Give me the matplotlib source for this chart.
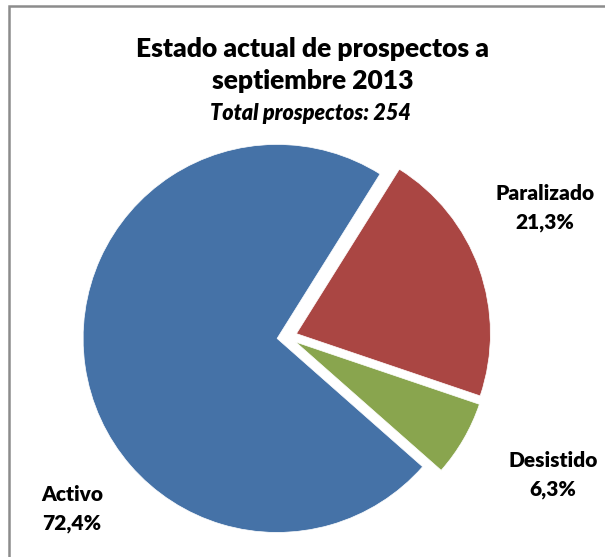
import matplotlib.pyplot as plt
from matplotlib.patches import Rectangle

# datos del grafico
categorias = ['Activo', 'Paralizado', 'Desistido']
porcentajes = [72.4, 21.3, 6.3]
colores = ['#4572A7', '#AA4643', '#89A54E']
titulo = 'Estado actual de prospectos a\nseptiembre 2013'
subtitulo = 'Total prospectos: 254'

W, H = 605, 557
plt.rcParams['font.family'] = ['Lato', 'DejaVu Sans']

fig = plt.figure(figsize=(W / 100, H / 100), dpi=100)
ax = fig.add_axes([0, 0, 1, 1])

# marco gris
ax.add_patch(Rectangle((8.5, -20), W + 40, H - 5.5 + 20, fill=False,
                       edgecolor='#8c8c8c', linewidth=1.8))

# pastel (coordenadas en pixeles, explode en pixeles)
cx, cy = 287, H - 337
ax.pie(porcentajes, colors=colores, startangle=-41.4, counterclock=False,
       center=(cx, cy), radius=194, explode=[10, 10, 10],
       wedgeprops=dict(edgecolor='white', linewidth=0.5), frame=True)
ax.set_xlim(0, W)
ax.set_ylim(0, H)
ax.set_aspect('equal')
ax.axis('off')

# titulos
ax.text(W / 2 + 10, H - 65, titulo, ha='center', va='center', fontsize=19,
        fontweight='heavy', linespacing=1.4)
ax.text(310, H - 114, subtitulo, ha='center', va='center', fontsize=15.5,
        fontweight='heavy', style='italic')

# etiquetas
pos_etiquetas = {'Activo': (72, 509), 'Paralizado': (545, 208), 'Desistido': (553, 475)}
for cat, p in zip(categorias, porcentajes):
    x, y = pos_etiquetas[cat]
    etiqueta = f'{cat}\n{p:.1f}%'.replace('.', ',')
    ax.text(x, H - y, etiqueta, ha='center', va='center', fontsize=15,
            fontweight='heavy', linespacing=1.55)

fig.savefig('out.png', dpi=100)
